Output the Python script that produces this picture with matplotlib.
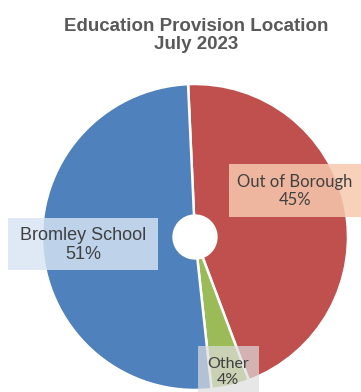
import matplotlib
matplotlib.use("Agg")
import matplotlib.pyplot as plt
from matplotlib.patches import Rectangle

# education provision, July 2023
categories = ["Out of Borough", "Other", "Bromley School"]
shares = [45, 4, 51]
colours = ["#C0504D", "#9BBB59", "#4F81BD"]

W, H = 361, 392
fig = plt.figure(figsize=(W / 100, H / 100), dpi=100)

def px_box(x0, y0, x1, y1):
    # pixel box (top-left origin) -> figure fraction rect
    return [x0 / W, 1 - y1 / H, (x1 - x0) / W, (y1 - y0) / H]

# pie area: centre (195, 237), radius 153 px
ax = fig.add_axes(px_box(42, 84, 348, 390))
wedges, _ = ax.pie(shares, colors=colours, startangle=92.6, counterclock=False,
                   radius=1.0, wedgeprops=dict(width=0.86, edgecolor="white", linewidth=1.8))
ax.set_xlim(-1, 1)
ax.set_ylim(-1, 1)
ax.set_aspect("equal")
ax.axis("off")

fig.text(196 / W, 1 - 35.5 / H, "Education Provision Location\nJuly 2023",
         ha="center", va="center", fontsize=13.5, fontweight="bold",
         color="#595959", family="Liberation Sans", linespacing=1.1)

# data label boxes
labels = [
    # (box, fill, alpha, text centre, font, size)
    ((229, 164, 361, 217), "#F7C9AE", 0.85, (295, 191), "Lato", 12),
    ((198, 346, 259, 400), "#DDDDDD", 0.7, (228, 372), "Lato", 11.5),
    ((8, 218, 158, 270), "#D8E5F4", 0.82, (83, 245), "Liberation Sans", 13),
]
for (box, fill, alpha, (tx, ty), font, size), name, val in zip(labels, categories, shares):
    r = Rectangle((box[0] / W, 1 - box[3] / H),
                  width=(box[2] - box[0]) / W, height=(box[3] - box[1]) / H,
                  transform=fig.transFigure, facecolor=fill, alpha=alpha,
                  edgecolor="none", zorder=5)
    fig.add_artist(r)
    fig.text(tx / W, 1 - ty / H, f"{name}\n{val}%", ha="center", va="center",
             fontsize=size, color="#404040", family=font,
             linespacing=1.2, zorder=6)

fig.savefig("out.png", dpi=100)
